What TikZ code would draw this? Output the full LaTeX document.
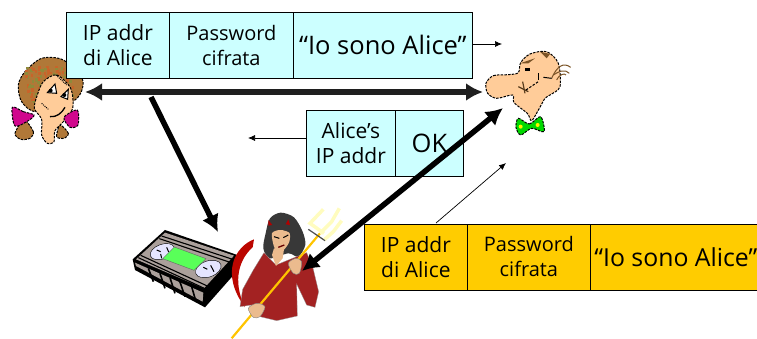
\documentclass[tikz,border=0pt]{standalone}
\usepackage{fontspec}
\setmainfont{Open Sans}
\usetikzlibrary{arrows.meta}
\definecolor{pale}{HTML}{CCFFFF}
\definecolor{gold}{HTML}{FFCC00}
\definecolor{skin}{HTML}{FFCC99}
\definecolor{hairb}{HTML}{B07838}
\definecolor{hairo}{HTML}{8F8A3A}
\definecolor{hairr}{HTML}{C8642A}
\definecolor{dress}{HTML}{A32222}
\definecolor{tape}{HTML}{ABA09B}
\definecolor{tskin}{HTML}{EBBB8E}
\tikzset{
 x=1pt,y=-1pt,
 cell/.style={draw=black,line width=.8pt,minimum height=66pt,inner sep=0pt,align=center,anchor=north west},
 small/.style={font=\fontsize{21}{25}\selectfont},
 mid/.style={font=\fontsize{20}{25}\selectfont},
 large/.style={font=\fontsize{25.5}{30}\selectfont},
 bluecell/.style={cell,fill=pale},
 goldcell/.style={cell,fill=gold},
 heavy/.style={line width=5.5pt,draw=black!88,-{Latex[length=17pt,width=18pt]}},
 heavyboth/.style={line width=5.5pt,draw=black!88,{Latex[length=17pt,width=18pt]}-{Latex[length=17pt,width=18pt]}},
 thin/.style={line width=.7pt,-{Latex[length=7pt,width=6pt]}},
 pix/.style={draw=black,line width=1pt,dash pattern=on 2.5pt off 1.2pt},
 zoomed/.style={x=.3333pt,y=-.3333pt},
}
\begin{document}
\begin{tikzpicture}
\useasboundingbox (0,0) rectangle (757,339);
% Alice
\begin{scope}[shift={(0,0)},zoomed]
 \fill[hairb,pix] plot[smooth cycle] coordinates {(72,360)(100,395)(90,415)(62,418)(45,400)};
 \fill[hairb,pix] plot[smooth cycle] coordinates {(180,375)(205,400)(192,415)(170,410)};
 \fill[hairb,pix] plot[smooth cycle] coordinates {(55,255)(75,215)(125,175)(190,180)(248,240)(225,300)(110,335)(65,305)};
 \pgfmathsetseed{7}
 \foreach \i in {1,...,130}{
  \pgfmathsetmacro\px{75+rnd*140}\pgfmathsetmacro\py{195+rnd*110}
  \pgfmathsetmacro\pc{rnd}
  \ifdim\pc pt<.5pt\fill[hairo] (\px,\py) rectangle +(8,8);\else\fill[hairr] (\px,\py) rectangle +(8,8);\fi
 }
 \fill[skin,pix] plot[smooth cycle] coordinates {(130,245)(170,225)(212,265)(218,325)(190,365)(165,392)(162,425)(142,430)(125,405)(125,358)(103,325)(112,285)};
 \fill[magenta!85!blue,pix] plot[smooth cycle] coordinates {(37,322)(70,335)(102,345)(85,362)(45,378)};
 \fill[magenta!85!blue,pix] plot[smooth cycle] coordinates {(192,352)(232,330)(234,375)(210,382)};
 \draw[line width=1pt,fill=white] (142,278)--(165,252)--(170,280)--cycle;
 \fill (152,272) circle[radius=6];
 \draw[line width=1pt,fill=white] (183,290)--(205,268)--(203,298)--cycle;
 \fill (193,285) circle[radius=6];
 \draw[line width=1.3pt] (150,350) .. controls (170,352) and (185,340) .. (195,322);
 \draw[line width=1pt,densely dotted] (125,310)--(145,328) (168,225)--(200,255);
\end{scope}
% Bob
\begin{scope}[shift={(450,30)},zoomed]
 \fill[green!85!black,pix] plot[smooth cycle] coordinates {(205,265)(238,282)(272,260)(282,305)(245,295)(212,315)(198,292)};
 \fill[yellow] (212,290) circle[radius=6];
 \fill[yellow] (263,285) circle[radius=6];
 \fill[skin,pix] plot[smooth cycle] coordinates {(108,160)(130,137)(175,134)(205,128)(212,98)(240,72)(290,65)(325,100)(330,170)(300,195)(285,205)(268,235)(245,272)(232,250)(192,218)(188,195)(140,205)(113,190)};
 \draw[hairb!70!black,line width=1pt] (305,145) .. controls (320,110) and (340,95) .. (362,112);
 \draw[hairb!70!black,line width=1pt] (310,135) .. controls (325,125) and (345,115) .. (358,130);
 \draw[hairb!70!black,line width=1pt] (320,150) .. controls (330,130) and (345,130) .. (348,135);
 \fill[hairb!70!black] (270,65)--(300,72)--(290,85)--cycle;
 \fill[hairb!70!black] (210,100)--(255,85)--(235,100)--cycle;
 \fill (225,115) rectangle (240,123);
 \draw[line width=1pt] (265,130)--(265,150);
 \draw[line width=1pt] (280,142)--(305,145);
 \draw[hairb!50!black,line width=1.2pt] (205,170)--(235,185);
 \draw[hairb!50!black,line width=1.2pt] (218,155)--(225,190);
 \draw[line width=1pt,dash pattern=on 2.5pt off 1.5pt] (228,180)--(265,155);
\end{scope}
% VCR and Trudy
\begin{scope}[shift={(120,190)},zoomed]
 \fill[black] (135,120)--(352,195)--(354,240)--(255,352)--(45,240)--(38,208)--cycle;
 \fill[tape] (48,228)--(248,335)--(250,308)--(45,218)--cycle;
 \fill[tape] (135,128)--(342,197)--(252,295)--(48,208)--cycle;
 \draw[line width=1.1pt] (125,138)--(338,208);
 \draw[line width=1.1pt] (118,146)--(330,217);
 \draw[line width=1.1pt] (62,196)--(262,288);
 \draw[line width=1.1pt] (55,203)--(255,296);
 \foreach \a/\b/\c/\d in {85/235/100/275,120/250/135/295,150/263/165/310,180/276/195/320,215/290/228/335}{\draw[line width=1.6pt] (\a,\b)--(\c,\d);}
 \fill[white!90!blue,draw=black,rotate around={20:(127,185)}] (127,185) ellipse[x radius=38,y radius=22];
 \fill[white!90!blue,draw=black,rotate around={20:(265,237)}] (265,237) ellipse[x radius=40,y radius=24];
 \fill[green!65!white,draw=black!60] (163,171)--(258,206)--(222,241)--(128,206)--cycle;
 \draw[line width=1pt] (110,180)--(122,185) (140,172)--(146,186) (122,192)--(125,205) (250,232)--(262,238) (272,226)--(282,245);
 % tail
 \fill[red!72!black!95!orange] (402,148) .. controls (345,170) and (300,250) .. (375,352) .. controls (335,270) and (360,205) .. (398,172) -- cycle;
 % hair
 \fill[black!78] plot[smooth cycle] coordinates {(437,130)(450,85)(482,68)(522,82)(548,125)(556,165)(535,200)(505,190)(450,205)(430,175)};
 % dress
 \fill[dress,draw=black!40,line width=.3pt] (432,188)--(468,225)--(510,208)--(560,188)--(578,230)--(596,305)--(585,352)--(560,345)--(530,282)--(532,378)--(470,392)--(420,380)--(395,345)--(360,350)--(368,298)--(400,240)--cycle;
 % face
 \fill[tskin] plot[smooth cycle] coordinates {(456,130)(480,120)(508,128)(508,155)(493,178)(475,188)(462,170)};
 \fill[tskin] (462,175)--(492,178)--(488,205)--(468,228)--(456,195)--cycle;
 \fill[black!78] (450,128)--(480,116)--(512,128)--(500,105)--(460,105)--cycle;
 \fill[red!70!black] (445,90)--(457,105)--(445,107)--cycle;
 \fill[red!70!black] (505,88)--(510,105)--(497,103)--cycle;
 \draw[line width=1pt] (462,140)--(478,145) (490,143)--(505,135);
 \draw[line width=1.3pt,red!40!black] (475,172)--(493,165);
 % trident
 \draw[line width=2.2pt,draw=gold!90!orange] (335,445)--(600,130);
 \draw[line width=3.5pt,draw=yellow!25!white] (612,130)--(570,100)--(610,58);
 \draw[line width=3.5pt,draw=yellow!25!white] (600,130)--(635,95)--(658,55);
 \draw[line width=3.5pt,draw=yellow!25!white] (612,150)--(640,125)--(665,92);
 \draw[line width=1.2pt,draw=black!70] (565,118)--(590,135)--(615,152);
 \fill[tskin,draw=black!50] plot[smooth cycle] coordinates {(505,220)(528,205)(545,215)(538,250)(520,250)};
 \fill[tskin,draw=black!50] plot[smooth cycle] coordinates {(385,355)(410,340)(435,350)(420,380)(400,382)};
\end{scope}
% top message
\node[bluecell,small,minimum width=103pt] (ipa) at (66,12) {IP addr\\di Alice};
\node[bluecell,mid,minimum width=124pt] (pwa) at (169,12) {Password\\cifrata};
\node[bluecell,large,minimum width=179pt] (ioa) at (293,12) {“Io sono Alice”};
% reply
\node[bluecell,small,minimum width=89pt] (ipr) at (306,110) {Alice’s\\IP addr};
\node[bluecell,large,minimum width=68pt] (okr) at (395,110) {OK};
% replay
\node[goldcell,small,minimum width=103pt] (ipt) at (364,223.5) {IP addr\\di Alice};
\node[goldcell,mid,minimum width=123pt] (pwt) at (467,223.5) {Password\\cifrata};
\node[goldcell,font=\fontsize{24.8}{30}\selectfont,minimum width=171pt] (iot) at (590,223.5) {“Io sono Alice”};
% anchors
\coordinate (alice) at (85,92);
\coordinate (bob) at (483,92);
\coordinate (bobb) at (503,108);
\coordinate (tr) at (302,271);
\coordinate (tapein) at (151,97);
\coordinate (tape) at (218,232);
\coordinate (a1) at (502,44);
\coordinate (a2) at (248,138);
\coordinate (a3s) at (436,223);
\coordinate (a3) at (506,163);
\draw[heavyboth] (alice) -- (bob);
\draw[heavy,draw=black] (tapein) -- (tape);
\draw[heavyboth,draw=black] (tr) -- (bobb);
\draw[thin] (ioa.east |- 0,44) -- (a1);
\draw[thin] (ipr.west |- 0,138) -- (a2);
\draw[thin] (a3s) -- (a3);
\end{tikzpicture}
\end{document}
